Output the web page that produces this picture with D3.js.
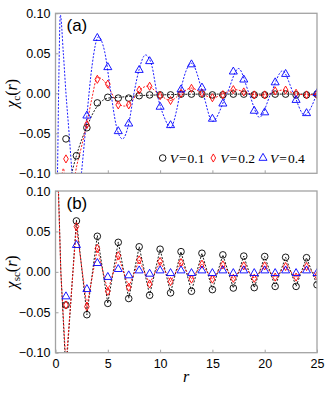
<!DOCTYPE html>
<html>
<head>
<meta charset="utf-8">
<script src="https://cdn.jsdelivr.net/npm/d3@7"></script>
<style>
  body { margin: 0; background: #fff; }
  svg { display: block; }
</style>
</head>
<body>
<div id="plotGoesHere"></div>
<script>
// values, r = 1 .. 25 (null = off the plotted range)
var rVals = d3.range(1, 26);

// panel (a): chi_c(r)
var chiCV1 = [-0.057, -0.078, -0.043, -0.012, -0.005, -0.006, -0.006, -0.003, -0.002, -0.002,
              -0.002, -0.001, -0.001, -0.001, -0.002, -0.002, -0.001, -0.001, -0.002, -0.002,
              -0.001, -0.001, -0.002, -0.002, -0.001];
var chiCV2 = [-0.082, null, -0.039, 0.0175, 0.0115, -0.0145, -0.0145, 0.004, 0.0088, -0.003,
              -0.009, 0.0, 0.0062, 0.0004, -0.0055, -0.0017, 0.0046, 0.0017, -0.002, -0.002,
              0.003, 0.004, 0.0, -0.002, -0.0017];
var chiCV4 = [null, null, -0.028, 0.069, 0.0325, -0.0475, -0.038, 0.029, 0.04, -0.017,
              -0.04, 0.0046, 0.036, 0.007, -0.032, -0.013, 0.027, 0.017, -0.022, -0.024,
              0.0135, 0.024, -0.0085, -0.025, 0.0];

// dashed curves in (a), read as (r, value) pairs
var fitCV1r = [1.35, 1.6, 2, 2.5, 3, 3.5, 4, 4.5, 5, 6, 7, 8, 10, 15, 20, 25];
var fitCV1  = [-0.11, -0.097, -0.078, -0.058, -0.042, -0.027, -0.016, -0.009, -0.006, -0.005,
               -0.004, -0.003, -0.002, -0.001, -0.001, -0.001];
var fitCV2r = [0.55, 0.75, 0.95, 1.4, 1.9, 2.5, 3, 3.5, 4, 4.6, 5.3, 5.9, 6.6, 7.3, 7.8, 8.8,
               9.8, 11, 12, 13, 14, 15, 16.1, 17.2, 18.4, 19.5, 20.6, 21.7, 22.9, 24, 25];
var fitCV2  = [-0.11, -0.094, -0.11, -0.15, -0.1, -0.066, -0.038, -0.005, 0.02, 0.016, 0.002,
               -0.012, -0.016, -0.01, 0.0, 0.009, 0.0, -0.009, 0.0, 0.0065, 0.0, -0.006, 0.0,
               0.0045, 0.0, -0.0025, 0.0, 0.004, 0.0, -0.002, -0.001];
var fitCV4r = [0.1, 0.19, 0.32, 0.46, 0.75, 1.0, 1.3, 1.58, 2.0, 2.48, 3, 3.5, 4.1, 4.7, 5.3,
               5.8, 6.4, 7.0, 7.5, 8.0, 8.6, 9.2, 9.7, 10.4, 11.0, 11.6, 11.9, 13.0, 14.1, 15.0,
               16.4, 17.5, 18.5, 19.5, 20.6, 21.7, 22.75, 23.8, 25];
var fitCV4  = [-0.16, -0.1, 0.02, 0.098, 0.05, 0.0, -0.05, -0.1, -0.16, -0.1, -0.028, 0.035,
               0.0705, 0.052, 0.0, -0.04, -0.057, -0.038, 0.0, 0.03, 0.048, 0.035, 0.0, -0.03,
               -0.043, -0.02, 0.0, 0.0375, 0.0, -0.035, 0.0, 0.031, 0.0, -0.03, 0.0, 0.028, 0.0,
               -0.027, 0.0];

// panel (b): chi_sc(r)
var chiSCV1 = [-0.041, 0.063, -0.053, 0.044, -0.039, 0.0365, -0.033, 0.031, -0.029, 0.028,
               -0.026, 0.025, -0.024, 0.023, -0.022, 0.021, -0.020, 0.0195, -0.0195, 0.019,
               -0.018, 0.018, -0.018, 0.0175, -0.016];
var chiSCV2 = [-0.041, 0.056, -0.043, 0.029, -0.024, 0.020, -0.019, 0.0148, -0.015, 0.0127,
               -0.012, 0.0115, -0.009, 0.0095, -0.009, 0.0086, -0.008, 0.0074, -0.008, 0.0074,
               -0.0065, 0.0066, -0.0065, 0.0066, -0.005];
var chiSCV4 = [-0.0305, 0.033, -0.0215, 0.0107, -0.0065, 0.0033, -0.0045, 0.0016, -0.0025, 0.0016,
               -0.0017, 0.0016, -0.0017, 0.0016, -0.0017, 0.0016, -0.0017, 0.0016, -0.0017, 0.0016,
               -0.0017, 0.0016, -0.0017, 0.0016, -0.0017];

var fitSCr   = [0.2, 0.51].concat(rVals);
var fitSCV1  = [0.14, 0.0, -0.125, 0.064, -0.053, 0.045, -0.039, 0.037, -0.033, 0.031, -0.029,
                0.028, -0.026, 0.025, -0.024, 0.023, -0.022, 0.021, -0.020, 0.0195, -0.0195,
                0.019, -0.018, 0.018, -0.018, 0.0175, -0.016];
var fitSCV2  = [0.13, 0.0, -0.115, 0.056, -0.043, 0.029, -0.024, 0.020, -0.019, 0.0148, -0.015,
                0.0127, -0.012, 0.0115, -0.009, 0.0095, -0.009, 0.0086, -0.008, 0.0074, -0.008,
                0.0074, -0.0065, 0.0066, -0.0065, 0.0066, -0.005];

var yTicks = [-0.1, -0.05, 0, 0.05, 0.1],
    xTicks = [0, 5, 10, 15, 20, 25],
    seriesColors = ["#000000", "#ff0000", "#0000ff"],
    legendLabels = ["0.1", "0.2", "0.4"];

var width = 327, height = 393,
    xLeft = 55.5, xRight = 317,
    panels = [{top: 13.3, bottom: 173.3, tag: "(a)", sub: "c", id: "a"},
              {top: 191, bottom: 352.7, tag: "(b)", sub: "sc", id: "b"}],
    frameColor = "#a3a3a3",
    sansFont = "'Liberation Sans', Arial, sans-serif",
    serifFont = "'Liberation Serif', 'Times New Roman', serif";

var xScale = d3.scaleLinear().domain([0, 25]).range([xLeft, xRight]);

var svg = d3.select("#plotGoesHere").append("svg")
    .attr("width", width).attr("height", height);

var symCircle = d3.symbol().type(d3.symbolCircle).size(Math.PI * 3.3 * 3.3),
    symDiamond = d3.symbol().type(d3.symbolDiamond).size(19),
    symTriangle = d3.symbol().type(d3.symbolTriangle).size(28);
var symbols = [symCircle, symDiamond, symTriangle];

function pairs(xs, ys){
  return xs.map((x, i) => ({r: x, v: ys[i]})).filter(d => d.v !== null);
}

function drawPanel(p, markerSets, curveSets, curveType){
  var yScale = d3.scaleLinear().domain([-0.1, 0.1]).range([p.bottom, p.top]);

  svg.append("clipPath").attr("id", "clip" + p.id)
     .append("rect")
     .attr("x", xLeft).attr("y", p.top)
     .attr("width", xRight - xLeft).attr("height", p.bottom - p.top);

  var plotG = svg.append("g").attr("clip-path", "url(#clip" + p.id + ")");

  var line = d3.line()
      .x(d => xScale(d.r))
      .y(d => yScale(d.v))
      .curve(curveType);

  curveSets.forEach(c => {
    plotG.append("path")
       .attr("d", line(c.data))
       .attr("fill", "none")
       .attr("stroke", seriesColors[c.color])
       .attr("stroke-width", 0.9)
       .attr("stroke-dasharray", "2,1.5");
  });

  markerSets.forEach((vals, k) => {
    plotG.selectAll(".m" + k)
       .data(pairs(rVals, vals))
       .join("path")
       .attr("class", "m" + k)
       .attr("transform", d => "translate(" + xScale(d.r) + "," + yScale(d.v) + ")")
       .attr("d", symbols[k]())
       .attr("fill", "none")
       .attr("stroke", seriesColors[k])
       .attr("stroke-width", 0.9);
  });

  // left axis with inward ticks
  var yAxis = svg.append("g")
     .attr("transform", "translate(" + xLeft + ",0)")
     .call(d3.axisLeft(yScale).tickValues(yTicks).tickFormat(d3.format(".2f"))
             .tickSizeInner(-3).tickSizeOuter(0).tickPadding(5));
  var xAxis = svg.append("g")
     .attr("transform", "translate(0," + p.bottom + ")")
     .call(d3.axisBottom(xScale).tickValues(p.id === "b" ? xTicks : xTicks.slice(1, 5))
             .tickFormat(p.id === "b" ? d3.format("d") : "")
             .tickSizeInner(-3).tickSizeOuter(0).tickPadding(6));
  [yAxis, xAxis].forEach(a => {
    a.select(".domain").remove();
    a.selectAll("line").attr("stroke", frameColor).attr("stroke-width", 1);
    a.selectAll("text").attr("fill", "#000")
     .style("font-family", sansFont).style("font-size", "12.5px");
  });

  svg.append("rect")
     .attr("x", xLeft).attr("y", p.top)
     .attr("width", xRight - xLeft).attr("height", p.bottom - p.top)
     .attr("fill", "none")
     .attr("stroke", frameColor)
     .attr("stroke-width", 1.3);

  svg.append("text")
     .attr("x", 66.5).attr("y", p.top + 17.5)
     .style("font-family", sansFont).style("font-size", "17px")
     .text(p.tag);

  // y title: chi_sub(r)
  var yt = svg.append("text")
     .attr("transform", "translate(17," + ((p.top + p.bottom) / 2) + ") rotate(-90)")
     .attr("text-anchor", "middle")
     .style("font-family", serifFont).style("font-size", "16px");
  yt.append("tspan").style("font-style", "italic").text("\u03c7");
  yt.append("tspan").attr("dy", 3).style("font-size", "11px").text(p.sub);
  yt.append("tspan").attr("dy", -3).text("(");
  yt.append("tspan").style("font-style", "italic").text("r");
  yt.append("tspan").text(")");

  return yScale;
}

drawPanel(panels[0], [chiCV1, chiCV2, chiCV4],
  [{data: pairs(fitCV1r, fitCV1), color: 0},
   {data: pairs(fitCV2r, fitCV2), color: 1},
   {data: pairs(fitCV4r, fitCV4), color: 2}], d3.curveMonotoneX);

drawPanel(panels[1], [chiSCV1, chiSCV2, chiSCV4],
  [{data: pairs(fitSCr, fitSCV1), color: 0},
   {data: pairs(fitSCr, fitSCV2), color: 1}], d3.curveLinear);

// legend in panel (a)
var legX = [162.7, 213.3, 263], legY = 158;
legendLabels.forEach((lab, k) => {
  svg.append("path")
     .attr("transform", "translate(" + legX[k] + "," + legY + ")")
     .attr("d", symbols[k]())
     .attr("fill", "none")
     .attr("stroke", seriesColors[k])
     .attr("stroke-width", 0.9);
  var t = svg.append("text")
     .attr("x", legX[k] + 7).attr("y", legY + 4.5)
     .style("font-family", serifFont).style("font-size", "13.5px");
  t.append("tspan").style("font-style", "italic").text("V");
  t.append("tspan").attr("dx", 1).text("=");
  t.append("tspan").attr("dx", 1).text(lab);
});

svg.append("text")
   .attr("x", 186).attr("y", 382)
   .attr("text-anchor", "middle")
   .style("font-family", serifFont).style("font-size", "16px")
   .style("font-style", "italic")
   .text("r");
</script>
</body>
</html>
